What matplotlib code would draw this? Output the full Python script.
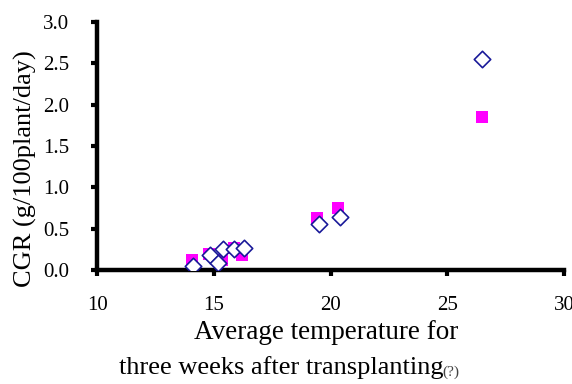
import matplotlib
matplotlib.use("Agg")
import matplotlib.pyplot as plt

temp_sq = [14.08, 14.77, 15.34, 15.87, 16.19, 19.4, 20.3, 26.5]
cgr_sq = [0.12, 0.19, 0.12, 0.27, 0.18, 0.63, 0.75, 1.85]
temp_dm = [14.12, 14.84, 15.17, 15.41, 15.88, 16.3, 19.5, 20.4, 26.5]
cgr_dm = [0.05, 0.18, 0.08, 0.25, 0.25, 0.26, 0.56, 0.64, 2.55]

xticks = [10, 15, 20, 25, 30]
yticks = [0.0, 0.5, 1.0, 1.5, 2.0, 2.5, 3.0]

plt.rcParams["font.family"] = ["Liberation Serif", "DejaVu Serif"]

W, H = 572, 384
fig = plt.figure(figsize=(W / 100, H / 100), dpi=100)
ax = fig.add_axes([0.17, 0.297, 0.816, 0.646])

ax.scatter(temp_sq, cgr_sq, marker="s", s=80, color="#ff00ff", linewidths=0, zorder=3)
ax.scatter(temp_dm, cgr_dm, marker="D", s=70, facecolor="white",
           edgecolor="#1a1a99", linewidths=1.2, zorder=4)

ax.set_xlim(10, 30)
ax.set_ylim(0, 3.0)
ax.set_xticks(xticks)
ax.set_yticks(yticks)
ax.set_xticklabels([str(v) for v in xticks])
ax.set_yticklabels([f"{v:.1f}" for v in yticks])

for side in ("top", "right"):
    ax.spines[side].set_visible(False)
for side in ("left", "bottom"):
    ax.spines[side].set_linewidth(3.2)
    ax.spines[side].set_color("black")
ax.tick_params(direction="out", length=4, width=3, labelsize=15)
ax.tick_params(axis="x", pad=15)
ax.tick_params(axis="y", pad=16)

# axis titles placed by hand to follow the reference
fig.text(25 / W, 1 - 169 / H, "CGR (g/100plant/day)", fontsize=19,
         rotation=90, ha="center", va="center")
fig.text(326 / W, 1 - 339 / H, "Average temperature for", fontsize=19.5,
         ha="center", va="baseline")
fig.text(281 / W, 1 - 374 / H, "three weeks after transplanting", fontsize=19,
         ha="center", va="baseline")
fig.text(442 / W, 1 - 376 / H, "(?)", fontsize=11, color="#444444",
         ha="left", va="baseline")

fig.savefig("out.png", dpi=100)
